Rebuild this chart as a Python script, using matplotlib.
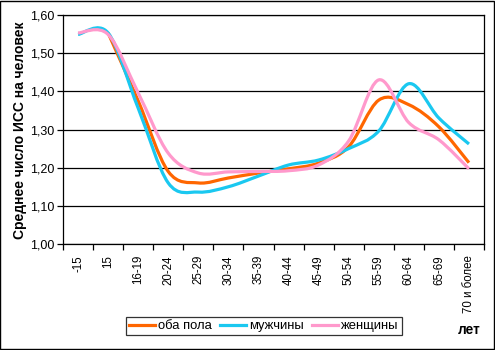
import numpy as np
import matplotlib.pyplot as plt
from matplotlib.path import Path
from matplotlib.patches import PathPatch, Rectangle
from matplotlib.lines import Line2D

plt.rcParams['font.family'] = ['Liberation Sans', 'DejaVu Sans']

categories = ['-15', '15', '16-19', '20-24', '25-29', '30-34', '35-39',
              '40-44', '45-49', '50-54', '55-59', '60-64', '65-69', '70 и более']
both = [np.nan, 1.553, 1.375, 1.190, 1.160, 1.173, 1.186,
        1.197, 1.212, 1.255, 1.377, 1.365, 1.307, 1.213]
men = [1.549, 1.553, 1.356, 1.160, 1.136, 1.150, 1.178,
       1.207, 1.220, 1.250, 1.296, 1.420, 1.330, 1.262]
women = [1.553, 1.549, 1.396, 1.238, 1.186, 1.189, 1.190,
         1.192, 1.207, 1.270, 1.430, 1.318, 1.273, 1.197]

series = [('оба пола', both, '#FF6600'),
          ('мужчины', men, '#1AC8F0'),
          ('женщины', women, '#FF99CC')]


def smooth_path(vals):
    # excel-like smoothed line: cubic bezier through every point (gaps skipped)
    pts = [(i, v) for i, v in enumerate(vals) if not np.isnan(v)]
    xs = [p[0] for p in pts]
    ys = [p[1] for p in pts]
    n = len(ys)
    verts = [(xs[0], ys[0])]
    codes = [Path.MOVETO]
    for i in range(n - 1):
        p0 = max(i - 1, 0)
        p3 = min(i + 2, n - 1)
        c1 = (xs[i] + (xs[i + 1] - xs[p0]) / 6, ys[i] + (ys[i + 1] - ys[p0]) / 6)
        c2 = (xs[i + 1] - (xs[p3] - xs[i]) / 6, ys[i + 1] - (ys[p3] - ys[i]) / 6)
        verts += [c1, c2, (xs[i + 1], ys[i + 1])]
        codes += [Path.CURVE4] * 3
    return Path(verts, codes)


fig = plt.figure(figsize=(4.95, 3.5), dpi=100, facecolor='w')
ax = fig.add_axes([63 / 495, 1 - 244 / 350, 421 / 495, 229 / 350])

handles = []
for name, vals, col in series:
    ax.add_patch(PathPatch(smooth_path(vals), fill=False, edgecolor=col,
                           lw=2.3, capstyle='butt', joinstyle='round', zorder=3))
    handles.append(Line2D([], [], color=col, lw=2.3, label=name))

ax.set_xlim(-0.5, len(categories) - 0.5)
ax.set_ylim(1.0, 1.6)
ax.set_yticks([1.0 + 0.1 * i for i in range(7)])
ax.set_yticklabels(['{:.2f}'.format(1.0 + 0.1 * i).replace('.', ',') for i in range(7)],
                   fontsize=9)
ax.yaxis.grid(True, color='black', lw=0.9)
ax.set_axisbelow(True)

ax.set_xticks([i - 0.5 for i in range(len(categories) + 1)])
ax.set_xticklabels([])
ax.set_xticks(range(len(categories)), minor=True)
ax.set_xticklabels(categories, minor=True, rotation=90, fontsize=8.3)
ax.tick_params(axis='x', which='major', length=4, width=0.9, direction='out')
ax.tick_params(axis='x', which='minor', length=0, pad=8)
ax.tick_params(axis='y', length=4, width=0.9, direction='out', pad=2)
for s in ax.spines.values():
    s.set_linewidth(0.9)

fig.text(0.040, 1 - 130 / 350, 'Среднее число ИСС на человек', rotation=90,
         fontsize=10, fontweight='bold', ha='center', va='center')

leg = fig.legend(handles=handles, loc='center', bbox_to_anchor=(264 / 495, 1 - 326 / 350),
                 ncol=3, fontsize=9.4, frameon=True, fancybox=False, edgecolor='black',
                 handlelength=2.0, handletextpad=0.25, columnspacing=0.6,
                 borderpad=0.25, borderaxespad=0)
leg.get_frame().set_linewidth(0.9)

fig.text(469 / 495, 1 - 330 / 350, 'лет', fontsize=9.8, fontweight='bold',
         ha='center', va='center')

fig.patches.append(Rectangle((0.001, 0.0015), 0.997, 0.996, transform=fig.transFigure,
                             fill=False, edgecolor='black', lw=1))

fig.savefig('out.png', dpi=100)
